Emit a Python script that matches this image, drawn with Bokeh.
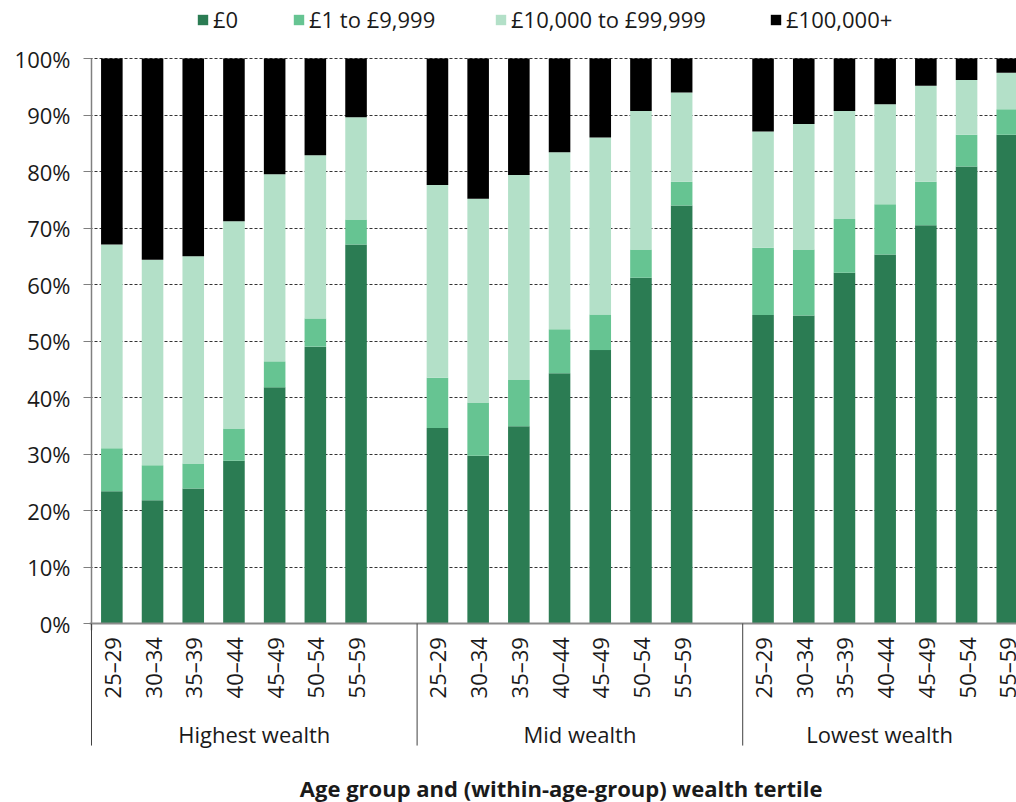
import numpy as np
from bokeh.plotting import figure
from bokeh.models import (ColumnDataSource, Range1d, FixedTicker, PrintfTickFormatter,
                          Legend, LegendItem)
from bokeh.core.properties import value
from bokeh.embed import file_html
from bokeh.resources import INLINE

# ---------------- data ----------------
groups = ["Highest wealth", "Mid wealth", "Lowest wealth"]
ages = ["25–29", "30–34", "35–39", "40–44", "45–49", "50–54", "55–59"]
bands = ["£0", "£1 to £9,999", "£10,000 to £99,999", "£100,000+"]

# shares (%) per bar, ordered group by group, age by age
zero = [23.4, 21.8, 23.9, 28.8, 41.8, 49.0, 67.1,
        34.6, 29.7, 34.9, 44.3, 48.4, 61.2, 74.0,
        54.6, 54.5, 62.1, 65.3, 70.5, 80.9, 86.5]
small = [7.6, 6.2, 4.4, 5.7, 4.6, 5.0, 4.4,
         8.9, 9.4, 8.2, 7.8, 6.3, 5.0, 4.2,
         11.9, 11.7, 9.5, 8.9, 7.7, 5.6, 4.5]
medium = [36.1, 36.4, 36.7, 36.7, 33.1, 28.9, 18.1,
          34.1, 36.1, 36.3, 31.3, 31.3, 24.5, 15.8,
          20.6, 22.2, 19.1, 17.7, 17.0, 9.7, 6.5]
large = [32.9, 35.6, 35.0, 28.8, 20.5, 17.1, 10.4,
         22.4, 24.8, 20.6, 16.6, 14.0, 9.3, 6.0,
         12.9, 11.6, 9.3, 8.1, 4.8, 3.8, 2.5]

y_ticks = list(range(0, 101, 10))
x_title = "Age group and (within-age-group) wealth tertile"

# ---------------- styling ----------------
colors = ["#2b7c53", "#66c492", "#b3e0c8", "#000000"]
FONT = "Open Sans"
TEXT = "#1a1a1a"
SLOTS = len(ages) + 1          # one empty slot after each group
legend_x = [107, 203, 405, 680]  # screen offsets of legend entries from the frame's left

xs = [g * SLOTS + i + 0.5 for g in range(len(groups)) for i in range(len(ages))]
src = ColumnDataSource(dict(x=xs, age=ages * len(groups),
                            zero=zero, small=small, medium=medium, large=large))

x_start, x_end = -0.049, 22.727
p = figure(width=1016, height=802, title=None,
           x_range=Range1d(x_start, x_end), y_range=Range1d(-31.68, 110.27),
           output_backend="svg", toolbar_location=None, x_axis_location=None,
           min_border_left=89, min_border_right=0, min_border_top=0, min_border_bottom=0)
p.outline_line_color = None

# grid
for g in p.grid:
    if g.dimension == 0:
        g.visible = False
p.ygrid.ticker = FixedTicker(ticks=y_ticks)
p.ygrid.grid_line_color = "#333333"
p.ygrid.grid_line_dash = "3 2"
p.ygrid.grid_line_width = 1

# y axis
ax = p.yaxis[0]
ax.ticker = FixedTicker(ticks=y_ticks)
ax.formatter = PrintfTickFormatter(format="%d%%")
ax.axis_line_color = None
ax.major_tick_out = 6
ax.major_tick_in = 2
ax.major_tick_line_color = "#7f7f7f"
ax.minor_tick_line_color = None
ax.major_label_standoff = 13
ax.major_label_text_font = FONT
ax.major_label_text_font_size = "22px"
ax.major_label_text_color = TEXT

# bars
rs = p.vbar_stack(["zero", "small", "medium", "large"], x="x", width=0.53, source=src,
                  fill_color=colors, line_color=None)

# axis lines
p.segment(x0=[0], y0=[-1.2], x1=[0], y1=[100], line_color="#808080", line_width=1.5)
p.segment(x0=[x_start], y0=[0], x1=[x_end], y1=[0], line_color="#8c8c8c", line_width=2)

# category labels
p.text(x="x", y=-2.4, text="age", source=src, angle=np.pi / 2,
       text_align="right", text_baseline="middle",
       text_font=value(FONT), text_font_size="22px", text_color=TEXT)

# group separators and labels
gstarts = [g * SLOTS for g in range(len(groups))]
p.segment(x0=gstarts, y0=0, x1=gstarts, y1=-21.6, line_color="#404040", line_width=1)
gcent = [(s + min(s + SLOTS, x_end)) / 2 for s in gstarts]
p.text(x=gcent, y=-19.5, text=groups, text_align="center", text_baseline="middle",
       text_font=value(FONT), text_font_size="22px", text_color=TEXT)

# x title
p.text(x=[(x_start + x_end) / 2 + 0.2], y=[-29.2], text=[x_title], text_align="center",
       text_baseline="middle", text_font=value(FONT), text_font_size="22px",
       text_font_style="bold", text_color=TEXT)

# legend (one entry per legend box so each sits where the reference has it)
for k, r in enumerate(rs):
    lg = Legend(items=[LegendItem(label=bands[k], renderers=[r])],
                location=(legend_x[k], 768), orientation="horizontal",
                padding=0, margin=0, glyph_width=13, glyph_height=13, label_standoff=4,
                label_text_font=FONT, label_text_font_size="22px", label_text_color=TEXT,
                border_line_color=None, background_fill_alpha=0)
    p.add_layout(lg)

open("out.html", "w").write(file_html(p, INLINE))
